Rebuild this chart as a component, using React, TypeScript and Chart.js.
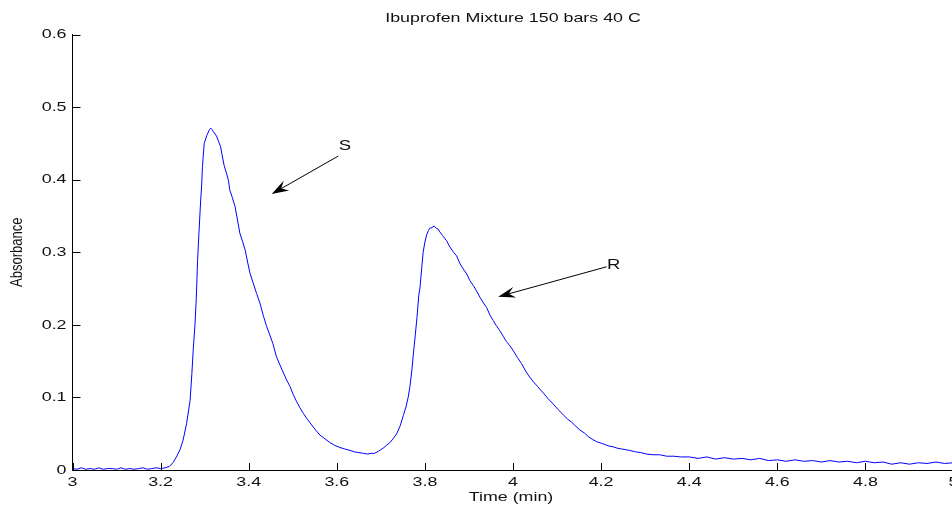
import React, { useEffect, useRef } from "react";
import { Chart, registerables } from "chart.js";

Chart.register(...registerables);

// ---------- data ----------
const timeMin = [
  3.0, 3.01, 3.02, 3.03, 3.04, 3.05, 3.06, 3.07, 3.08, 3.09, 3.1, 3.11, 3.12, 3.13, 3.14, 3.15, 3.16, 3.17, 3.18, 3.19, 3.2, 3.21, 3.22,
  3.228, 3.236, 3.244, 3.251, 3.259, 3.267, 3.271, 3.274, 3.278, 3.281, 3.284, 3.287, 3.291, 3.293, 3.295, 3.299, 3.305, 3.311, 3.314,
  3.317, 3.32, 3.327, 3.332, 3.336, 3.339, 3.344, 3.35, 3.354, 3.357, 3.363, 3.369, 3.375, 3.38, 3.386, 3.392, 3.398, 3.403, 3.41,
  3.418, 3.426, 3.433, 3.44, 3.448, 3.455, 3.463, 3.47, 3.478, 3.486, 3.494, 3.501, 3.509, 3.516, 3.524, 3.533, 3.543, 3.552, 3.562,
  3.573, 3.584, 3.595, 3.607, 3.618, 3.63, 3.64, 3.65, 3.66, 3.67, 3.678, 3.686, 3.695, 3.705, 3.713, 3.721, 3.729, 3.736, 3.744,
  3.751, 3.757, 3.762, 3.766, 3.77, 3.774, 3.778, 3.782, 3.786, 3.789, 3.793, 3.796, 3.8, 3.804, 3.808, 3.811, 3.816, 3.821, 3.826,
  3.83, 3.834, 3.84, 3.849, 3.857, 3.865, 3.872, 3.879, 3.887, 3.895, 3.902, 3.91, 3.917, 3.925, 3.933, 3.94, 3.948, 3.955, 3.962,
  3.97, 3.978, 3.985, 3.992, 4.0, 4.01, 4.019, 4.029, 4.038, 4.047, 4.056, 4.063, 4.069, 4.08, 4.091, 4.103, 4.114, 4.124, 4.133,
  4.143, 4.152, 4.162, 4.171, 4.181, 4.19, 4.2, 4.209, 4.218, 4.227, 4.237, 4.246, 4.256, 4.265, 4.278, 4.29, 4.303, 4.318, 4.333,
  4.349, 4.365, 4.38, 4.4, 4.42, 4.44, 4.46, 4.48, 4.5, 4.52, 4.54, 4.56, 4.58, 4.6, 4.62, 4.64, 4.66, 4.68, 4.7, 4.72, 4.74, 4.76,
  4.78, 4.8, 4.82, 4.84, 4.86, 4.88, 4.9, 4.92, 4.94, 4.96, 4.98, 5.0,
];

const absorbance = [
  0.002, 0.001, 0.003, 0.001, 0.002, 0.001, 0.003, 0.001, 0.002, 0.002, 0.001, 0.003, 0.001, 0.002, 0.001, 0.002, 0.003, 0.001, 0.002, 0.003, 0.002, 0.003, 0.005,
  0.01, 0.018, 0.028, 0.041, 0.064, 0.096, 0.133, 0.165, 0.2, 0.236, 0.289, 0.326, 0.372, 0.39, 0.418, 0.45, 0.461, 0.469, 0.471,
  0.469, 0.466, 0.46, 0.452, 0.446, 0.436, 0.42, 0.408, 0.399, 0.386, 0.375, 0.363, 0.343, 0.326, 0.315, 0.303, 0.285, 0.271, 0.258,
  0.243, 0.229, 0.213, 0.199, 0.186, 0.174, 0.156, 0.146, 0.135, 0.124, 0.115, 0.104, 0.094, 0.086, 0.078, 0.07, 0.062, 0.055, 0.048,
  0.043, 0.038, 0.034, 0.031, 0.029, 0.027, 0.025, 0.024, 0.023, 0.022, 0.023, 0.023, 0.026, 0.03, 0.034, 0.038, 0.044, 0.05, 0.061,
  0.075, 0.087, 0.1, 0.115, 0.135, 0.161, 0.185, 0.21, 0.24, 0.252, 0.28, 0.3, 0.314, 0.324, 0.33, 0.333, 0.334, 0.336, 0.333,
  0.332, 0.328, 0.323, 0.316, 0.307, 0.3, 0.295, 0.285, 0.277, 0.27, 0.261, 0.254, 0.247, 0.238, 0.23, 0.224, 0.213, 0.206, 0.199,
  0.192, 0.184, 0.177, 0.172, 0.165, 0.155, 0.147, 0.136, 0.128, 0.121, 0.115, 0.11, 0.106, 0.098, 0.091, 0.083, 0.076, 0.07, 0.066,
  0.06, 0.055, 0.051, 0.046, 0.042, 0.039, 0.037, 0.035, 0.033, 0.032, 0.03, 0.029, 0.028, 0.027, 0.025, 0.024, 0.022, 0.021, 0.021,
  0.019, 0.019, 0.018, 0.018, 0.016, 0.018, 0.015, 0.017, 0.015, 0.016, 0.014, 0.016, 0.013, 0.014, 0.012, 0.014, 0.012, 0.013, 0.011, 0.013, 0.011, 0.012,
  0.01, 0.012, 0.01, 0.011, 0.008, 0.01, 0.008, 0.01, 0.009, 0.011, 0.009, 0.01,
];

const xTickValues = [3, 3.2, 3.4, 3.6, 3.8, 4, 4.2, 4.4, 4.6, 4.8, 5];
const xTickLabels = ["3", "3.2", "3.4", "3.6", "3.8", "4", "4.2", "4.4", "4.6", "4.8", "5"];
const yTickValues = [0, 0.1, 0.2, 0.3, 0.4, 0.5, 0.6];
const yTickLabels = ["0", "0.1", "0.2", "0.3", "0.4", "0.5", "0.6"];

const titleText = "Ibuprofen Mixture 150 bars 40 C";
const xTitleText = "Time (min)";
const yTitleText = "Absorbance";

// annotation arrows (data coordinates)
const arrowLabels = ["S", "R"];
const arrowTailX = [3.6033, 4.2125];
const arrowTailY = [0.4325, 0.28];
const arrowTipX = [3.4521, 3.9664];
const arrowTipY = [0.3802, 0.2387];
const arrowLabelX = [3.6185, 4.2286];
const arrowLabelY = [0.4463, 0.2828];

// ---------- drawing helpers ----------
const SX = 1.32;
const FONT_FAMILY = '"Liberation Sans", Arial, Helvetica, sans-serif';
const TEXT_COLOR = "#111";

function stretchedText(
  ctx: CanvasRenderingContext2D,
  text: string,
  x: number,
  y: number,
  align: CanvasTextAlign,
  size: number,
  rotate = false
) {
  ctx.save();
  ctx.translate(x, y);
  ctx.scale(SX, 1);
  if (rotate) ctx.rotate(-Math.PI / 2);
  ctx.font = `${size}px ${FONT_FAMILY}`;
  ctx.fillStyle = TEXT_COLOR;
  ctx.textAlign = align;
  ctx.textBaseline = "middle";
  ctx.fillText(text, 0, 0);
  ctx.restore();
}

const matlabPlugin = {
  id: "matlabDecor",
  afterDraw(chart: any) {
    const ctx: CanvasRenderingContext2D = chart.ctx;
    const xs = chart.scales.x;
    const ys = chart.scales.y;
    const area = chart.chartArea;
    const cx = (area.left + area.right) / 2;

    ctx.save();
    // inward tick marks
    ctx.strokeStyle = "#000";
    ctx.lineWidth = 1;
    ctx.beginPath();
    yTickValues.forEach((v) => {
      const py = Math.round(ys.getPixelForValue(v)) + 0.5;
      ctx.moveTo(area.left, py);
      ctx.lineTo(area.left + 8, py);
    });
    xTickValues.forEach((v) => {
      const px = Math.round(xs.getPixelForValue(v)) + 0.5;
      ctx.moveTo(px, area.bottom);
      ctx.lineTo(px, area.bottom - 7);
    });
    ctx.stroke();

    // tick labels
    yTickValues.forEach((v, i) => {
      stretchedText(ctx, yTickLabels[i], area.left - 6, ys.getPixelForValue(v), "right", 13.5);
    });
    xTickValues.forEach((v, i) => {
      stretchedText(ctx, xTickLabels[i], xs.getPixelForValue(v), area.bottom + 12, "center", 13.5);
    });

    // titles
    stretchedText(ctx, titleText, cx, 18.5, "center", 13.5);
    stretchedText(ctx, xTitleText, cx - 2, area.bottom + 27, "center", 13.5);
    stretchedText(ctx, yTitleText, 17.5, (area.top + area.bottom) / 2, "center", 13, true);

    // arrows
    arrowLabels.forEach((lab, i) => {
      const x1 = xs.getPixelForValue(arrowTailX[i]);
      const y1 = ys.getPixelForValue(arrowTailY[i]);
      const x2 = xs.getPixelForValue(arrowTipX[i]);
      const y2 = ys.getPixelForValue(arrowTipY[i]);
      const ang = Math.atan2(y2 - y1, x2 - x1);
      const len = 17;
      const hw = 5.5;
      const notch = 11;
      ctx.strokeStyle = "#000";
      ctx.lineWidth = 1;
      ctx.beginPath();
      ctx.moveTo(x1, y1);
      ctx.lineTo(x2 - Math.cos(ang) * notch, y2 - Math.sin(ang) * notch);
      ctx.stroke();
      const ux = Math.cos(ang), uy = Math.sin(ang);
      const nx = -uy, ny = ux;
      ctx.fillStyle = "#000";
      ctx.beginPath();
      ctx.moveTo(x2, y2);
      ctx.lineTo(x2 - ux * len + nx * hw, y2 - uy * len + ny * hw);
      ctx.lineTo(x2 - ux * notch, y2 - uy * notch);
      ctx.lineTo(x2 - ux * len - nx * hw, y2 - uy * len - ny * hw);
      ctx.closePath();
      ctx.fill();
      stretchedText(ctx, lab, xs.getPixelForValue(arrowLabelX[i]), ys.getPixelForValue(arrowLabelY[i]), "center", 14);
    });
    ctx.restore();
  },
};

export default function App() {
  const canvasRef = useRef<HTMLCanvasElement | null>(null);

  useEffect(() => {
    const canvas = canvasRef.current;
    if (!canvas) return;
    const points = timeMin.map((t, i) => ({ x: t, y: absorbance[i] }));
    const chart = new Chart(canvas, {
      type: "scatter",
      data: {
        datasets: [
          {
            data: points,
            showLine: true,
            borderColor: "#0000ff",
            backgroundColor: "#0000ff",
            borderWidth: 1,
            pointRadius: 0,
            tension: 0,
            fill: false,
          } as any,
        ],
      },
      options: {
        responsive: false,
        animation: false,
        devicePixelRatio: 1,
        layout: { padding: { top: 34.5, right: 6.5, left: 0, bottom: 0 } },
        plugins: {
          legend: { display: false },
          tooltip: { enabled: false },
          title: { display: false },
        },
        scales: {
          x: {
            type: "linear",
            position: "bottom",
            min: 3,
            max: 5,
            grid: { display: false },
            border: { display: true, color: "#000", width: 1 },
            ticks: { display: false },
            afterBuildTicks: (s: any) => {
              s.ticks = xTickValues.map((v) => ({ value: v }));
            },
            afterFit: (s: any) => {
              s.height = 36;
            },
          },
          y: {
            type: "linear",
            position: "left",
            min: 0,
            max: 0.6,
            grid: { display: false },
            border: { display: true, color: "#000", width: 1 },
            ticks: { display: false },
            afterBuildTicks: (s: any) => {
              s.ticks = yTickValues.map((v) => ({ value: v }));
            },
            afterFit: (s: any) => {
              s.width = 72.5;
            },
          },
        },
      } as any,
      plugins: [matlabPlugin],
    });
    return () => chart.destroy();
  }, []);

  return (
    <div
      style={{
        position: "fixed",
        left: 0,
        top: 0,
        width: 952,
        height: 506,
        overflow: "hidden",
        background: "#fff",
      }}
    >
      <canvas ref={canvasRef} width={960} height={506} style={{ display: "block" }} />
    </div>
  );
}
